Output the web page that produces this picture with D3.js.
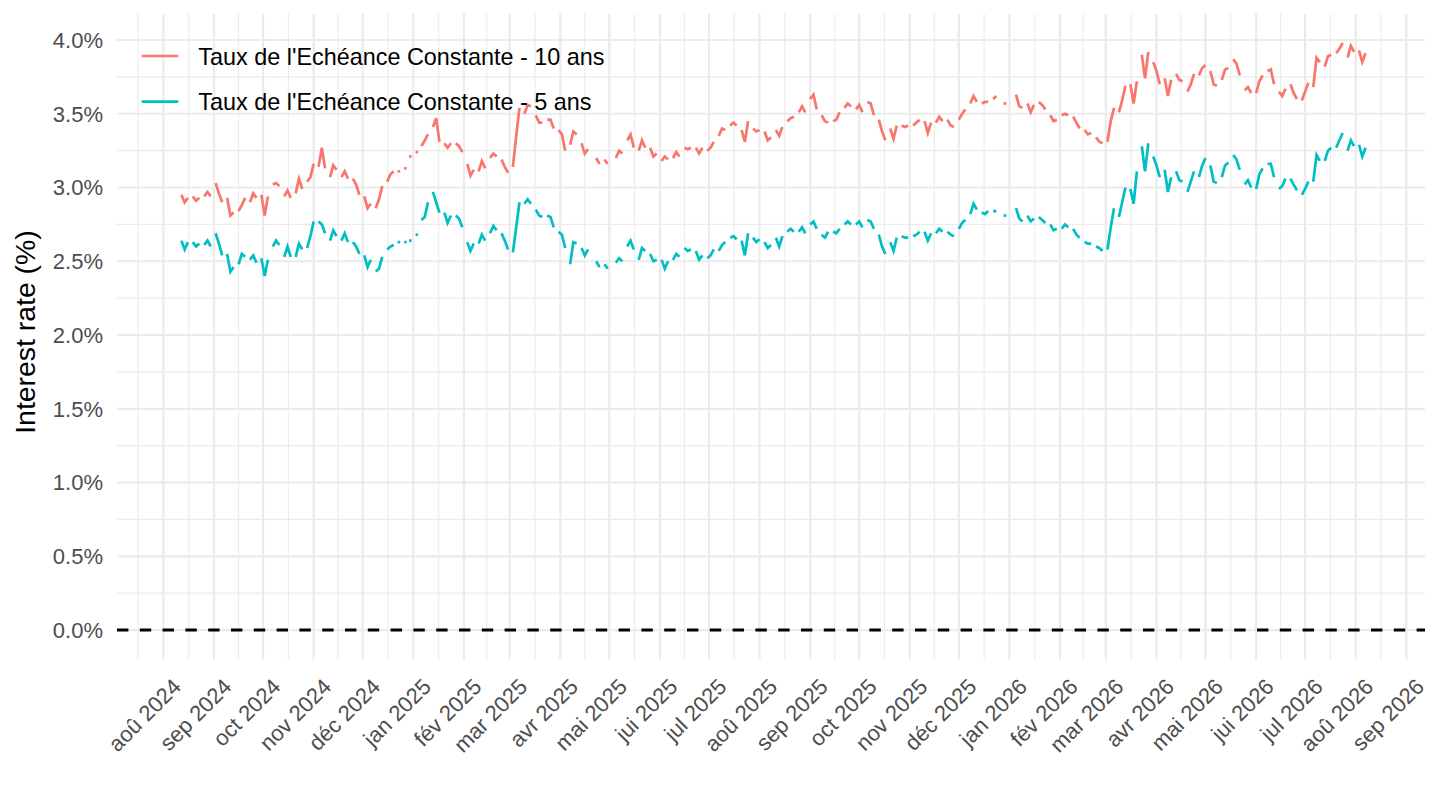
<!DOCTYPE html>
<html>
<head>
<meta charset="utf-8">
<script src="https://cdn.jsdelivr.net/npm/d3@7"></script>
<style>
  body { margin: 0; background: #fff; }
  text { font-family: "Liberation Sans", Arial, sans-serif; }
</style>
</head>
<body>
<div id="chart"></div>
<script>
// series, one [mon, wed, fri] triple per week starting at firstMonday
var seriesNames = ["Taux de l'Echéance Constante - 10 ans", "Taux de l'Echéance Constante - 5 ans"];
var seriesColors = ["#F8766D", "#00BFC4"];
var period = ["2024-08-09", "2026-08-07"];
var firstMonday = "2024-08-12";
var weekDays = [0, 2, 4];

var tec10 = [
  [2.95, 2.90, 2.93], [2.94, 2.91, 2.93], [2.94, 2.97, 2.94], [3.03, 2.96, 2.90],
  [2.93, 2.81, 2.83], [2.84, 2.88, 2.93], [2.90, 2.96, 2.93], [2.95, 2.81, 2.94],
  [3.02, 3.03, 3.01], [2.94, 2.98, 2.93], [2.96, 3.06, 2.99], [3.04, 3.07, 3.16],
  [3.14, 3.27, 3.13], [3.07, 3.15, 3.12], [3.07, 3.11, 3.06], [3.06, 3.02, 2.95],
  [2.94, 2.86, 2.89], [2.86, 2.92, 3.01], [3.04, 3.09, 3.11], [3.11, null, 3.13],
  [3.21, null, 3.24], [3.28, 3.32, 3.36], [3.41, 3.47, 3.31], [3.30, 3.27, 3.30],
  [3.30, 3.28, 3.24], [3.16, 3.08, 3.12], [3.11, 3.18, 3.13], [3.20, 3.23, 3.21],
  [3.19, 3.14, 3.10], [3.14, 3.35, 3.54], [3.50, 3.56, 3.55], [3.49, 3.44, 3.44],
  [3.46, 3.46, 3.40], [3.39, 3.36, 3.25], [3.29, 3.38, 3.36], [3.30, 3.23, 3.26],
  [null, 3.20, 3.16], [3.19, 3.16, null], [3.20, 3.25, 3.23], [3.32, 3.36, 3.27],
  [3.25, 3.32, 3.27], [3.27, 3.21, 3.23], [3.18, 3.21, 3.19], [3.20, 3.24, 3.21],
  [3.27, 3.26, 3.27], [3.27, 3.23, 3.27], [3.25, 3.27, 3.31], [3.35, 3.40, 3.39],
  [3.42, 3.44, 3.42], [3.39, 3.31, 3.45], [3.40, 3.38, 3.39], [3.38, 3.32, 3.34],
  [3.39, 3.35, 3.41], [3.45, 3.47, 3.48], [3.51, 3.55, 3.51], [3.60, 3.63, 3.53],
  [3.49, 3.45, 3.44], [3.45, 3.46, 3.51], [3.54, 3.57, 3.55], [3.53, 3.56, 3.51],
  [3.58, 3.57, 3.49], [3.46, 3.38, 3.32], [3.40, 3.33, 3.42], [3.42, 3.41, 3.42],
  [3.42, 3.44, 3.46], [3.45, 3.37, 3.44], [3.44, 3.48, 3.45], [3.46, 3.42, 3.41],
  [3.46, 3.50, 3.53], [3.57, 3.62, 3.58], [3.57, 3.58, 3.58], [3.60, 3.62, null],
  [3.57, null, null], [3.63, 3.55, 3.54], [3.57, 3.51, 3.56], [3.58, 3.56, 3.53],
  [3.49, 3.45, 3.46], [3.49, 3.50, 3.49], [3.48, 3.44, 3.40], [3.39, 3.36, 3.37],
  [3.34, 3.31, 3.30], [3.31, 3.45, 3.54], [3.51, 3.59, 3.69], [3.70, 3.57, 3.72],
  [3.90, 3.74, 3.92], [3.85, 3.79, 3.70], [3.74, 3.62, 3.73], [3.77, 3.73, 3.72],
  [3.65, 3.70, 3.77], [3.76, 3.81, 3.83], [3.79, 3.70, 3.69], [3.73, 3.80, 3.81],
  [3.87, 3.84, 3.76], [3.66, 3.68, 3.64], [3.64, 3.72, 3.76], [3.79, 3.80, 3.70],
  [3.65, 3.62, 3.67], [3.70, 3.64, 3.60], [3.59, 3.65, 3.71], [3.68, 3.88, 3.85],
  [3.82, 3.89, 3.90], [3.91, 3.94, 3.98], [3.88, 3.96, 3.92], [3.93, 3.85, 3.91]
];

var tec5 = [
  [2.64, 2.58, 2.63], [2.63, 2.60, 2.62], [2.61, 2.64, 2.60], [2.69, 2.62, 2.54],
  [2.55, 2.43, 2.46], [2.48, 2.55, 2.53], [2.51, 2.54, 2.49], [2.52, 2.40, 2.51],
  [2.60, 2.64, 2.61], [2.53, 2.60, 2.53], [2.53, 2.62, 2.58], [2.59, 2.67, 2.77],
  [2.77, 2.75, 2.69], [2.64, 2.71, 2.67], [2.64, 2.69, 2.63], [2.63, 2.60, 2.55],
  [2.54, 2.46, 2.51], [2.43, 2.45, 2.53], [2.58, 2.60, 2.61], [2.63, null, 2.63],
  [2.64, null, 2.68], [2.78, 2.80, 2.90], [2.97, 2.90, 2.83], [2.83, 2.76, 2.81],
  [2.81, 2.79, 2.73], [2.63, 2.57, 2.62], [2.62, 2.68, 2.64], [2.69, 2.74, 2.71],
  [2.69, 2.64, 2.58], [2.56, 2.73, 2.90], [2.89, 2.92, 2.89], [2.85, 2.81, 2.80],
  [2.81, 2.80, 2.73], [2.70, 2.68, 2.59], [2.48, 2.63, 2.62], [2.59, 2.54, 2.58],
  [null, 2.50, 2.46], [2.48, 2.45, null], [2.49, 2.52, 2.50], [2.60, 2.64, 2.58],
  [2.51, 2.59, 2.57], [2.55, 2.50, 2.51], [2.51, 2.45, 2.50], [2.51, 2.55, 2.53],
  [2.59, 2.57, 2.58], [2.57, 2.51, 2.54], [2.52, 2.54, 2.58], [2.57, 2.61, 2.63],
  [2.66, 2.67, 2.65], [2.64, 2.54, 2.69], [2.66, 2.63, 2.65], [2.63, 2.59, 2.61],
  [2.66, 2.60, 2.67], [2.70, 2.72, 2.70], [2.70, 2.73, 2.69], [2.75, 2.77, 2.72],
  [2.68, 2.66, 2.70], [2.70, 2.69, 2.72], [2.75, 2.77, 2.75], [2.75, 2.77, 2.73],
  [2.78, 2.77, 2.72], [2.68, 2.60, 2.55], [2.63, 2.57, 2.66], [2.67, 2.66, 2.66],
  [2.67, 2.68, 2.70], [2.70, 2.64, 2.69], [2.69, 2.72, 2.70], [2.70, 2.68, 2.67],
  [2.72, 2.76, 2.78], [2.82, 2.89, 2.85], [2.83, 2.82, 2.84], [2.84, 2.84, null],
  [2.81, null, null], [2.86, 2.79, 2.77], [2.81, 2.77, 2.79], [2.80, 2.78, 2.76],
  [2.75, 2.71, 2.72], [2.72, 2.75, 2.73], [2.72, 2.68, 2.66], [2.63, 2.62, 2.62],
  [2.60, 2.59, 2.57], [2.58, 2.73, 2.86], [2.80, 2.90, 3.00], [2.99, 2.89, 3.11],
  [3.28, 3.11, 3.30], [3.21, 3.15, 3.07], [3.12, 2.97, 3.07], [3.11, 3.05, 3.04],
  [2.97, 3.04, 3.11], [3.07, 3.15, 3.20], [3.15, 3.04, 3.03], [3.07, 3.15, 3.17],
  [3.22, 3.19, 3.12], [3.02, 3.05, 3.00], [2.99, 3.09, 3.13], [3.16, 3.16, 3.07],
  [2.99, 3.01, 3.06], [3.06, 3.02, 2.98], [2.95, 2.99, 3.04], [3.04, 3.22, 3.18],
  [3.18, 3.25, 3.27], [3.27, 3.32, 3.37], [3.25, 3.32, 3.28], [3.29, 3.21, 3.27]
];

var monthLabels = ["aoû 2024", "sep 2024", "oct 2024", "nov 2024", "déc 2024",
  "jan 2025", "fév 2025", "mar 2025", "avr 2025", "mai 2025", "jui 2025", "jul 2025",
  "aoû 2025", "sep 2025", "oct 2025", "nov 2025", "déc 2025",
  "jan 2026", "fév 2026", "mar 2026", "avr 2026", "mai 2026", "jui 2026", "jul 2026",
  "aoû 2026", "sep 2026"];
var yTicks = [0, 0.5, 1, 1.5, 2, 2.5, 3, 3.5, 4];
var yMinor = [0.25, 0.75, 1.25, 1.75, 2.25, 2.75, 3.25, 3.75];

document.addEventListener("DOMContentLoaded", function() {
  var width = 1440,
      height = 810,
      left = 117, right = 1425, top = 13.6, bottom = 659.4,
      grid = "#EBEBEB";

  var svg = d3.select("#chart").append("svg")
    .attr("width", width)
    .attr("height", height);

  var parseDay = d3.utcParse("%Y-%m-%d");
  var t0 = parseDay(period[0]), t1 = parseDay(period[1]);
  var span = t1 - t0;

  var x = d3.scaleUtc()
    .domain([new Date(+t0 - 0.05 * span), new Date(+t1 + 0.05 * span)])
    .range([left, right]);

  var allValues = d3.merge(tec10.concat(tec5)).filter(function(v) { return v != null; });
  var yLo = Math.min(0, d3.min(allValues)), yHi = d3.max(allValues);
  var yPad = 0.05 * (yHi - yLo);
  var y = d3.scaleLinear()
    .domain([yLo - yPad, yHi + yPad])
    .range([bottom, top]);

  // grid
  var months = d3.utcMonth.range(new Date(Date.UTC(2024, 6, 1)), new Date(Date.UTC(2026, 10, 1)));
  var majorX = d3.utcMonth.range(new Date(Date.UTC(2024, 7, 1)), new Date(Date.UTC(2026, 8, 2)));
  var minorX = d3.pairs(months).map(function(p) { return new Date((+p[0] + +p[1]) / 2); })
    .filter(function(d) { return x(d) >= left && x(d) <= right; });

  var g = svg.append("g");
  g.selectAll(".ymin").data(yMinor).enter().append("line")
    .attr("x1", left).attr("x2", right)
    .attr("y1", function(d) { return y(d); }).attr("y2", function(d) { return y(d); })
    .attr("stroke", grid).attr("stroke-width", 1.1);
  g.selectAll(".xmin").data(minorX).enter().append("line")
    .attr("y1", top).attr("y2", bottom)
    .attr("x1", function(d) { return x(d); }).attr("x2", function(d) { return x(d); })
    .attr("stroke", grid).attr("stroke-width", 1.1);
  g.selectAll(".ymaj").data(yTicks).enter().append("line")
    .attr("x1", left).attr("x2", right)
    .attr("y1", function(d) { return y(d); }).attr("y2", function(d) { return y(d); })
    .attr("stroke", grid).attr("stroke-width", 2.2);
  g.selectAll(".xmaj").data(majorX).enter().append("line")
    .attr("y1", top).attr("y2", bottom)
    .attr("x1", function(d) { return x(d); }).attr("x2", function(d) { return x(d); })
    .attr("stroke", grid).attr("stroke-width", 2.2);

  // zero line
  svg.append("line")
    .attr("x1", left).attr("x2", right)
    .attr("y1", y(0)).attr("y2", y(0))
    .attr("stroke", "#000").attr("stroke-width", 2.85)
    .attr("stroke-dasharray", "11.4,11.4");

  // series
  var monday0 = parseDay(firstMonday);
  function toPoints(weeks) {
    var pts = [];
    weeks.forEach(function(w, i) {
      w.forEach(function(v, j) {
        pts.push({ date: d3.utcDay.offset(monday0, 7 * i + weekDays[j]), value: v });
      });
      pts.push({ date: d3.utcDay.offset(monday0, 7 * i + 5), value: null });
    });
    return pts;
  }

  var line = d3.line()
    .defined(function(d) { return d.value != null; })
    .x(function(d) { return x(d.date); })
    .y(function(d) { return y(d.value); });

  [tec10, tec5].forEach(function(weeks, s) {
    var pts = toPoints(weeks);
    svg.append("path")
      .attr("d", line(pts))
      .attr("fill", "none")
      .attr("stroke", seriesColors[s])
      .attr("stroke-width", 2.7);
    var lone = pts.filter(function(d, i) {
      return d.value != null && (i == 0 || pts[i - 1].value == null) && pts[i + 1].value == null;
    });
    svg.selectAll(".lone" + s).data(lone).enter().append("rect")
      .attr("x", function(d) { return x(d.date) - 1; })
      .attr("y", function(d) { return y(d.value) - 1.35; })
      .attr("width", 2.6).attr("height", 2.7)
      .attr("fill", seriesColors[s]);
  });

  // axes labels
  svg.selectAll(".ylab").data(yTicks).enter().append("text")
    .attr("x", 103).attr("y", function(d) { return y(d); })
    .attr("dy", "0.36em")
    .attr("text-anchor", "end")
    .attr("font-size", 22)
    .attr("fill", "#4D4D4D")
    .text(function(d) { return d3.format(".1f")(d) + "%"; });

  svg.selectAll(".xlab").data(majorX).enter().append("text")
    .attr("transform", function(d) { return "translate(" + (x(d) + 19) + ",688) rotate(-45)"; })
    .attr("text-anchor", "end")
    .attr("font-size", 22)
    .attr("fill", "#4D4D4D")
    .text(function(d, i) { return monthLabels[i]; });

  svg.append("text")
    .attr("transform", "translate(34.5,332) rotate(-90)")
    .attr("text-anchor", "middle")
    .attr("font-size", 28.4)
    .attr("fill", "#000")
    .text("Interest rate (%)");

  // legend
  var legend = svg.append("g");
  seriesNames.forEach(function(name, i) {
    var ly = 56 + i * 45.7;
    legend.append("line")
      .attr("x1", 141.7).attr("x2", 178.3)
      .attr("y1", ly).attr("y2", ly)
      .attr("stroke", seriesColors[i]).attr("stroke-width", 2.7);
    legend.append("text")
      .attr("x", 198.3).attr("y", ly)
      .attr("dy", "0.37em")
      .attr("font-size", 23.4)
      .attr("fill", "#000")
      .text(name);
  });
});
</script>
</body>
</html>
